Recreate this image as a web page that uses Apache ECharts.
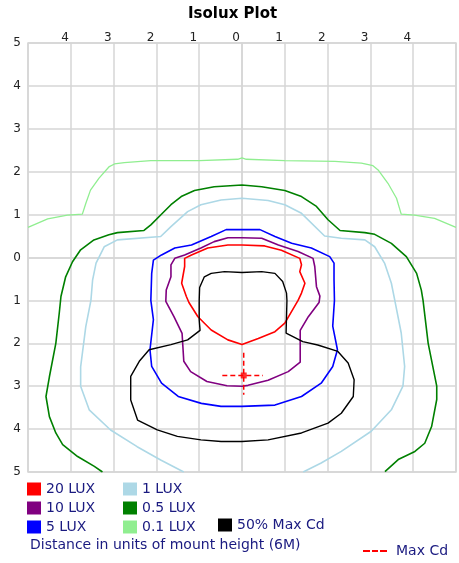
<!DOCTYPE html>
<html>
<head>
<meta charset="utf-8">
<script src="https://cdn.jsdelivr.net/npm/echarts@6/dist/echarts.min.js"></script>
<style>html,body{margin:0;padding:0;background:#fff}#c{width:459px;height:563px}</style>
</head>
<body>
<div id="c"></div>
<script>
// Tick values (labels shown as absolute distance)
var xTicks = [-5,-4,-3,-2,-1,0,1,2,3,4,5];
var yTicks = [-5,-4,-3,-2,-1,0,1,2,3,4,5];

var lux20 = [[0,0.29],[-0.33,0.29],[-0.8,0.22],[-1.18,0.06],[-1.34,-0.02],[-1.34,-0.21],[-1.41,-0.6],[-1.30,-0.91],[-1.24,-1.05],[-1.03,-1.38],[-0.72,-1.69],[-0.33,-1.92],[0,-2.03],[0.38,-1.89],[0.77,-1.73],[1.0,-1.53],[1.31,-1.0],[1.39,-0.83],[1.47,-0.6],[1.35,-0.33],[1.39,-0.17],[1.35,-0.02],[0.92,0.17],[0.53,0.27],[0,0.29]];
var lux10 = [[0,0.46],[-0.33,0.46],[-0.65,0.37],[-0.96,0.22],[-1.34,0.06],[-1.57,-0.02],[-1.66,-0.17],[-1.66,-0.45],[-1.77,-0.76],[-1.78,-1.02],[-1.59,-1.38],[-1.4,-1.77],[-1.36,-2.42],[-1.2,-2.66],[-0.82,-2.89],[-0.35,-2.99],[0,-3.0],[0.14,-2.98],[0.61,-2.86],[1.08,-2.66],[1.36,-2.44],[1.36,-1.70],[1.55,-1.38],[1.80,-1.05],[1.82,-0.9],[1.74,-0.68],[1.70,-0.21],[1.66,-0.02],[1.31,0.14],[0.85,0.29],[0.46,0.45],[0,0.46]];
var lux5 = [[0,0.65],[-0.37,0.65],[-0.72,0.49],[-1.18,0.29],[-1.57,0.22],[-1.88,0.06],[-2.07,-0.06],[-2.11,-0.37],[-2.13,-1.0],[-2.07,-1.45],[-2.15,-2.15],[-2.11,-2.54],[-1.88,-2.93],[-1.49,-3.24],[-0.95,-3.4],[-0.49,-3.47],[0,-3.47],[0.77,-3.44],[1.39,-3.24],[1.85,-2.93],[2.12,-2.54],[2.23,-2.15],[2.12,-1.6],[2.16,-1.0],[2.15,-0.52],[2.15,-0.13],[2.05,0.02],[1.62,0.22],[1.16,0.33],[0.77,0.49],[0.42,0.65],[0,0.65]];
var lux1 = [[-1.36,-5.0],[-1.9,-4.72],[-2.45,-4.41],[-3.07,-4.02],[-3.57,-3.55],[-3.77,-3.0],[-3.77,-2.55],[-3.65,-1.61],[-3.53,-1.0],[-3.49,-0.52],[-3.41,-0.13],[-3.22,0.25],[-2.91,0.41],[-1.9,0.49],[-1.66,0.72],[-1.27,1.07],[-0.96,1.23],[-0.49,1.34],[0,1.38],[0.61,1.33],[1.0,1.23],[1.39,1.03],[1.93,0.50],[2.32,0.45],[2.87,0.41],[3.1,0.25],[3.33,-0.13],[3.49,-0.6],[3.57,-1.0],[3.72,-1.76],[3.8,-2.54],[3.76,-3.0],[3.49,-3.55],[3.02,-4.05],[2.32,-4.52],[1.85,-4.79],[1.43,-5.0]];
var lux05 = [[-3.26,-5.0],[-3.45,-4.87],[-3.84,-4.64],[-4.19,-4.36],[-4.35,-4.09],[-4.5,-3.71],[-4.58,-3.24],[-4.5,-2.78],[-4.35,-2.0],[-4.27,-1.3],[-4.23,-0.91],[-4.12,-0.45],[-3.96,-0.1],[-3.77,0.18],[-3.46,0.41],[-3.11,0.53],[-2.91,0.58],[-2.29,0.63],[-2.13,0.76],[-1.9,0.99],[-1.66,1.23],[-1.42,1.42],[-1.11,1.56],[-0.65,1.65],[0,1.69],[0.46,1.65],[1.0,1.56],[1.39,1.42],[1.74,1.19],[2.01,0.88],[2.29,0.63],[2.87,0.58],[3.1,0.54],[3.49,0.33],[3.84,0.02],[4.08,-0.37],[4.19,-0.76],[4.23,-1.0],[4.35,-2.0],[4.55,-3.0],[4.55,-3.31],[4.43,-3.94],[4.27,-4.33],[4.04,-4.52],[3.65,-4.71],[3.34,-4.99]];
var lux01 = [[-5.0,0.70],[-4.54,0.90],[-4.08,0.99],[-3.73,1.01],[-3.65,1.26],[-3.54,1.57],[-3.34,1.85],[-3.10,2.12],[-2.98,2.18],[-2.75,2.21],[-2.13,2.26],[-1.0,2.26],[-0.1,2.29],[0,2.32],[0.1,2.29],[1.0,2.26],[2.17,2.24],[2.79,2.20],[3.06,2.14],[3.18,2.04],[3.41,1.73],[3.61,1.38],[3.72,1.01],[4.03,0.99],[4.5,0.91],[5.0,0.70]];
var maxCd50 = [[0,-0.35],[-0.41,-0.33],[-0.72,-0.37],[-0.88,-0.45],[-0.99,-0.70],[-1.0,-1.0],[-1.0,-1.45],[-0.98,-1.70],[-1.27,-1.92],[-1.66,-2.03],[-2.17,-2.15],[-2.4,-2.42],[-2.6,-2.77],[-2.6,-3.32],[-2.44,-3.79],[-1.98,-4.02],[-1.51,-4.17],[-0.96,-4.25],[-0.49,-4.29],[0,-4.29],[0.61,-4.25],[1.39,-4.09],[2.01,-3.86],[2.32,-3.63],[2.6,-3.24],[2.62,-2.85],[2.48,-2.46],[2.24,-2.19],[1.77,-2.04],[1.42,-1.96],[1.03,-1.76],[1.05,-1.0],[1.04,-0.83],[0.95,-0.56],[0.77,-0.37],[0.46,-0.33],[0,-0.35]];
var maxCdH = [[-0.46,-2.75],[0.49,-2.75]];
var maxCdV = [[0.04,-2.22],[0.04,-3.2]];
var maxCdPoint = [[0.04,-2.75]];

var FONT = 'DejaVu Sans';
var NAVY = '#1a1a80';
var GRID = '#d6d6d6';

function contour(name, data, color, width) {
  return {name: name, type: 'line', data: data, color: color, showSymbol: false, symbol: 'none',
    lineStyle: {color: color, width: width}, silent: true, animation: false, z: 3};
}

var legendBase = {orient: 'vertical', icon: 'rect', itemWidth: 14, itemHeight: 13, itemGap: 5,
  padding: 0, selectedMode: false, textStyle: {color: NAVY, fontSize: 14, fontFamily: FONT}};

var chart = echarts.init(document.getElementById('c'));
chart.setOption({
  animation: false,
  backgroundColor: '#fff',
  title: [
    {text: 'Isolux Plot', left: 188, top: 7, padding: 0,
     textStyle: {fontSize: 15, fontWeight: 'bold', color: '#000', fontFamily: FONT}},
    {text: 'Distance in units of mount height (6M)', left: 30, top: 538, padding: 0,
     textStyle: {fontSize: 14, fontWeight: 'normal', color: NAVY, fontFamily: FONT}}
  ],
  legend: [
    Object.assign({}, legendBase, {left: 27, top: 482, data: ['20 LUX', '10 LUX', '5 LUX']}),
    Object.assign({}, legendBase, {left: 123, top: 482, data: ['1 LUX', '0.5 LUX', '0.1 LUX']}),
    Object.assign({}, legendBase, {left: 218, top: 518, data: ['50% Max Cd']}),
    Object.assign({}, legendBase, {left: 363, top: 544, itemWidth: 24, itemHeight: 2,
      textStyle: {color: NAVY, fontSize: 14, fontFamily: FONT, padding: [0, 0, 0, 4]},
      data: [{name: 'Max Cd', icon: 'path://M0,0h7v2h-7z M9,0h6v2h-6z M17,0h7v2h-7z'}]})
  ],
  grid: {left: 28, right: 3, top: 43, bottom: 91, show: true, borderColor: GRID, borderWidth: 1.5, containLabel: false},
  xAxis: {type: 'value', position: 'top', min: xTicks[0], max: xTicks[xTicks.length - 1], interval: 1,
    axisLine: {show: true, lineStyle: {color: GRID, width: 1.5}}, axisTick: {show: false},
    splitLine: {show: true, lineStyle: {color: GRID, width: 1.5}},
    axisLabel: {margin: -1, align: 'right', padding: [0, 2, 0, 0], color: '#222', fontSize: 12, fontFamily: FONT,
      formatter: function (v) { return Math.abs(v) === 5 ? '' : String(Math.abs(v)); }}},
  yAxis: {type: 'value', min: yTicks[0], max: yTicks[yTicks.length - 1], interval: 1,
    axisLine: {show: true, lineStyle: {color: GRID, width: 1.5}}, axisTick: {show: false},
    splitLine: {show: true, lineStyle: {color: GRID, width: 1.5}},
    axisLabel: {margin: 7, color: '#222', fontSize: 12, fontFamily: FONT,
      formatter: function (v) { return String(Math.abs(v)); }}},
  series: [
    contour('0.1 LUX', lux01, '#90EE90', 1.3),
    contour('0.5 LUX', lux05, '#008000', 1.6),
    contour('1 LUX', lux1, '#ADD8E6', 1.6),
    contour('5 LUX', lux5, '#0000FF', 1.6),
    contour('10 LUX', lux10, '#800080', 1.6),
    contour('20 LUX', lux20, '#FF0000', 1.6),
    contour('50% Max Cd', maxCd50, '#000000', 1.4),
    {name: 'Max Cd', type: 'line', data: maxCdH, color: '#FF0000', showSymbol: false, symbol: 'none',
     lineStyle: {color: '#FF0000', width: 1.5, type: [5, 3]}, z: 4},
    {name: 'Max Cd', type: 'line', data: maxCdV, color: '#FF0000', showSymbol: false, symbol: 'none',
     lineStyle: {color: '#FF0000', width: 1.5, type: [5, 3]}, z: 4},
    {name: 'Max Cd point', type: 'scatter', data: maxCdPoint, symbol: 'rect', symbolSize: 6,
     itemStyle: {color: '#FF0000'}, z: 5}
  ]
});
</script>
</body>
</html>
